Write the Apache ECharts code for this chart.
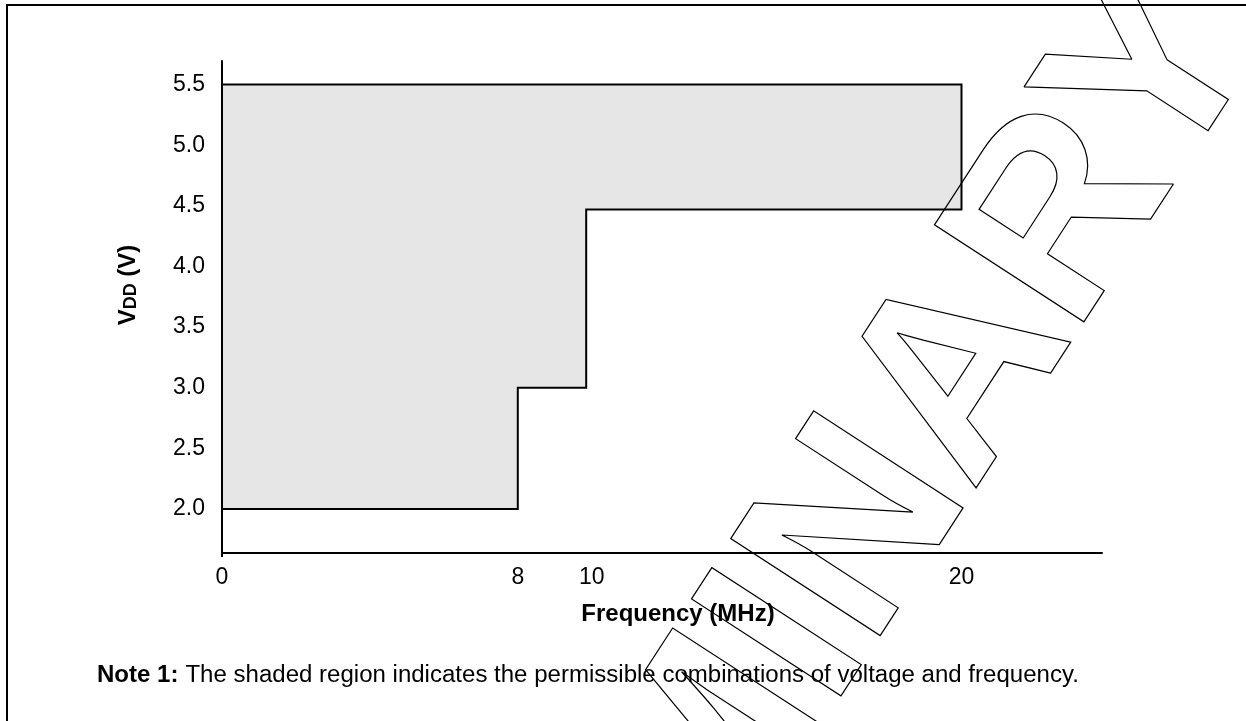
<!DOCTYPE html>
<html>
<head>
<meta charset="utf-8">
<script src="https://cdn.jsdelivr.net/npm/echarts@6/dist/echarts.min.js"></script>
<style>
html,body{margin:0;padding:0;background:#fff;}
#chart{width:1246px;height:721px;}
</style>
</head>
<body>
<div id="chart"></div>
<script>
// Boundary of the permitted operating region (frequency MHz, VDD V), traced in order
const regionFreq = [0, 8, 8, 9.85, 9.85, 20, 20, 0];
const regionVdd  = [2.0, 2.0, 3.0, 3.0, 4.47, 4.47, 5.5, 5.5];
// Tick labels
const xTickValues = [0, 8, 10, 20];
const yTickValues = [2.0, 2.5, 3.0, 3.5, 4.0, 4.5, 5.0, 5.5];
// Texts
const xAxisTitle = 'Frequency (MHz)';
const noteLabel = 'Note 1:';
const noteText = 'The shaded region indicates the permissible combinations of voltage and frequency.';
const watermark = 'PRELIMINARY';

const FONT = '"Liberation Sans", Arial, Helvetica, sans-serif';
const chart = echarts.init(document.getElementById('chart'), null, {renderer: 'canvas'});

const regionPoints = regionFreq.map((f, i) => [f, regionVdd[i]]);

chart.setOption({
  animation: false,
  backgroundColor: '#fff',
  grid: {left: 222, top: 61, right: 144, bottom: 168, containLabel: false},
  xAxis: {
    type: 'value', min: 0, max: 23.8,
    axisLine: {show: true, onZero: false, lineStyle: {color: '#000', width: 2}},
    axisTick: {show: true, customValues: [0], length: 4, lineStyle: {color: '#000', width: 2}},
    splitLine: {show: false},
    axisLabel: {customValues: xTickValues, color: '#000', fontSize: 23, fontFamily: FONT, margin: 13,
      formatter: v => String(v)}
  },
  yAxis: {
    type: 'value', min: 1.637, max: 5.694,
    axisLine: {show: true, onZero: false, lineStyle: {color: '#000', width: 2}},
    axisTick: {show: false},
    splitLine: {show: false},
    axisLabel: {customValues: yTickValues, color: '#000', fontSize: 23, fontFamily: FONT, margin: 17,
      formatter: v => v.toFixed(1)}
  },
  series: [{
    type: 'custom',
    data: [0],
    z: 1,
    renderItem: function (params, api) {
      const pts = regionPoints.map(p => api.coord(p));
      return {
        type: 'polygon',
        shape: {points: pts},
        style: {fill: '#e6e6e6', stroke: '#000', lineWidth: 2}
      };
    }
  }],
  graphic: [
    {type: 'line', shape: {x1: 6, y1: 5, x2: 1246, y2: 5}, style: {stroke: '#000', lineWidth: 2}, z: 5},
    {type: 'line', shape: {x1: 7, y1: 4, x2: 7, y2: 721}, style: {stroke: '#000', lineWidth: 2}, z: 5},
    {type: 'text', x: 128, y: 285, rotation: Math.PI / 2, z: 5,
      style: {text: '{v|V}{d|DD}{v| (V)}', align: 'center', verticalAlign: 'middle',
        rich: {
          v: {fontSize: 24, fontWeight: 'bold', fontFamily: FONT, fill: '#000', verticalAlign: 'bottom'},
          d: {fontSize: 18, fontWeight: 'bold', fontFamily: FONT, fill: '#000', verticalAlign: 'bottom'}
        }}},
    {type: 'text', x: 678, y: 614, z: 5,
      style: {text: xAxisTitle, font: 'bold 24px ' + FONT, fill: '#000', align: 'center', verticalAlign: 'middle'}},
    {type: 'text', x: 97, y: 676, z: 5, scaleX: 1.045,
      style: {text: '{b|' + noteLabel + '}  {r|' + noteText + '}', align: 'left', verticalAlign: 'middle',
        rich: {
          b: {fontSize: 23, fontWeight: 'bold', fontFamily: FONT, fill: '#000'},
          r: {fontSize: 23, fontFamily: FONT, fill: '#000'}
        }}},
    {type: 'text', x: 722, y: 748, rotation: 57 * Math.PI / 180, z: 50,
      style: {text: watermark, font: 'bold 259px ' + FONT, fill: 'none', stroke: '#000', lineWidth: 1.2,
        align: 'center', verticalAlign: 'middle'}}
  ]
});
</script>
</body>
</html>
